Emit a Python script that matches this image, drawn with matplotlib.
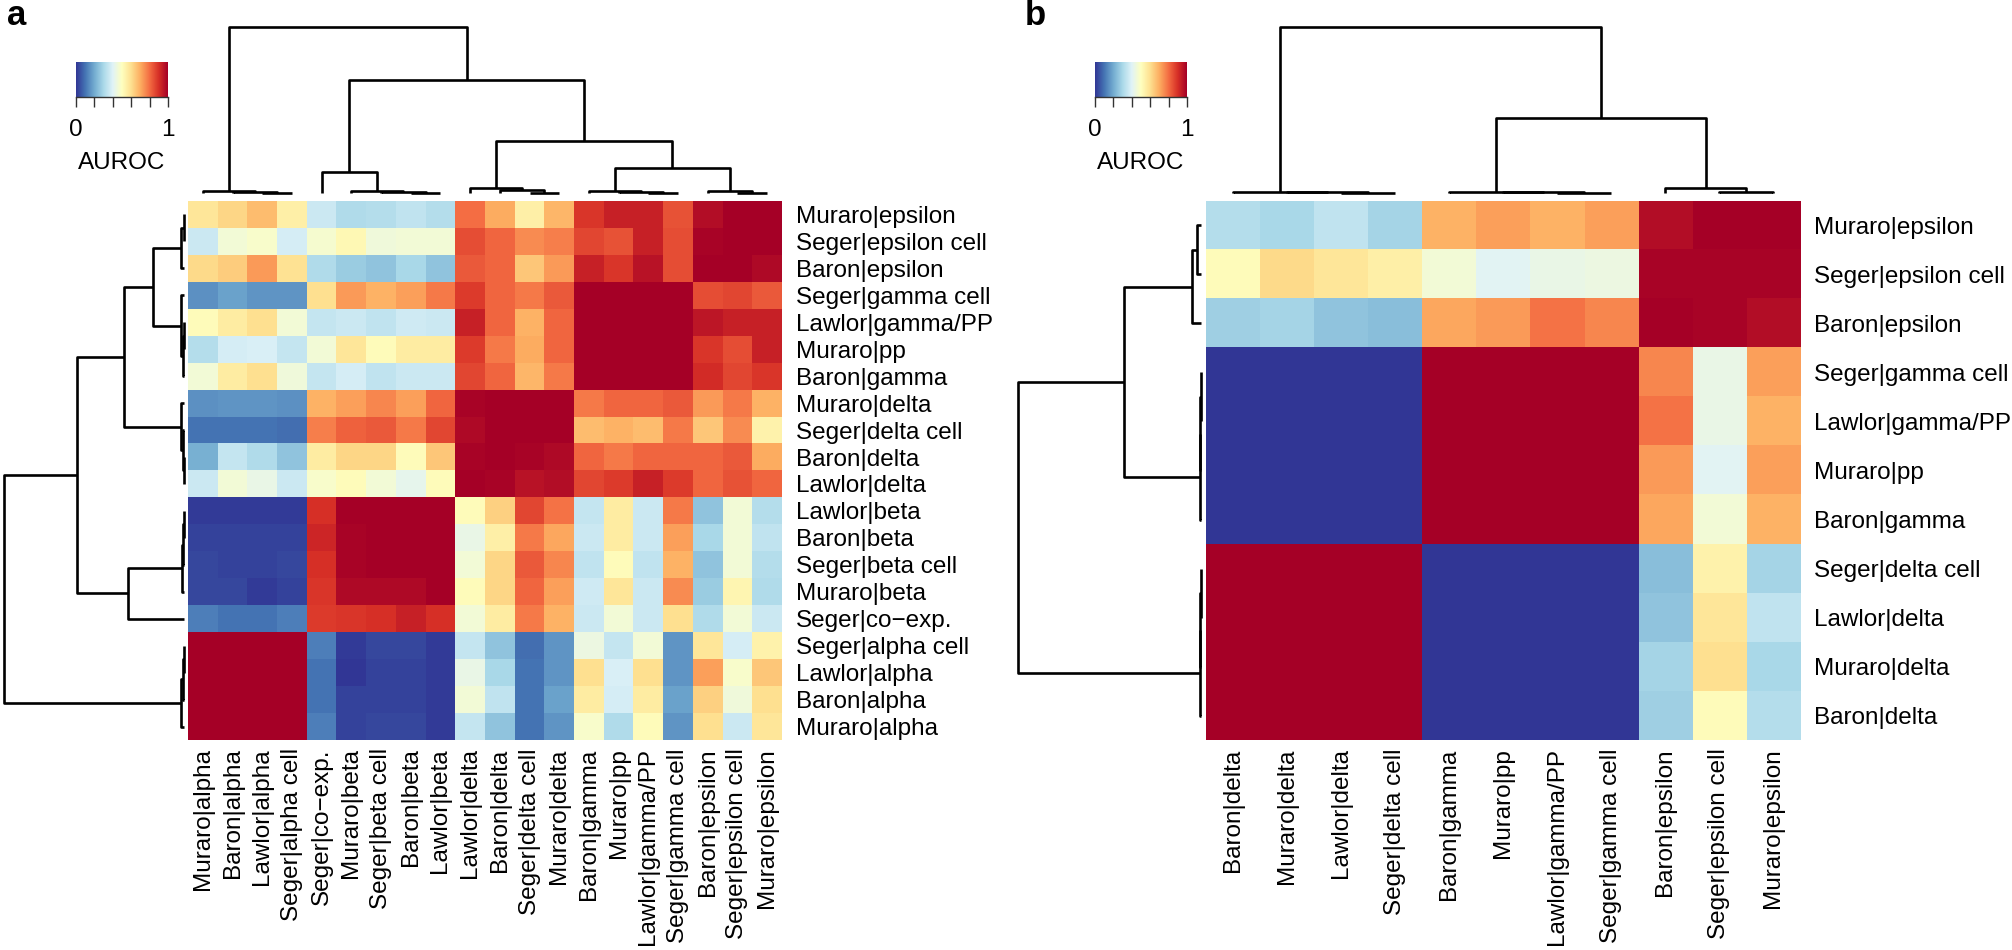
import numpy as np
import matplotlib
matplotlib.use("Agg")
import matplotlib.pyplot as plt

plt.rcParams['font.family'] = ['Liberation Sans', 'DejaVu Sans']

# ---------------- data: panel a ----------------
rows_a = ["Muraro|epsilon", "Seger|epsilon cell", "Baron|epsilon", "Seger|gamma cell",
          "Lawlor|gamma/PP", "Muraro|pp", "Baron|gamma", "Muraro|delta", "Seger|delta cell",
          "Baron|delta", "Lawlor|delta", "Lawlor|beta", "Baron|beta", "Seger|beta cell",
          "Muraro|beta", "Seger|co-exp.", "Seger|alpha cell", "Lawlor|alpha", "Baron|alpha",
          "Muraro|alpha"]
cols_a = ["Muraro|alpha", "Baron|alpha", "Lawlor|alpha", "Seger|alpha cell", "Seger|co\u2212exp.",
          "Muraro|beta", "Seger|beta cell", "Baron|beta", "Lawlor|beta", "Lawlor|delta",
          "Baron|delta", "Seger|delta cell", "Muraro|delta", "Baron|gamma", "Muraro|pp",
          "Lawlor|gamma/PP", "Seger|gamma cell", "Baron|epsilon", "Seger|epsilon cell",
          "Muraro|epsilon"]
rows_a_disp = [r.replace("co-exp.", "co\u2212exp.") for r in rows_a]

auroc_a = [
    [0.58, 0.62, 0.67, 0.55, 0.36, 0.31, 0.32, 0.34, 0.32, 0.80, 0.70, 0.55, 0.68, 0.89, 0.93, 0.93, 0.84, 0.97, 1.00, 1.00],
    [0.36, 0.46, 0.48, 0.38, 0.47, 0.52, 0.45, 0.46, 0.46, 0.85, 0.81, 0.75, 0.77, 0.86, 0.84, 0.93, 0.85, 0.99, 1.00, 1.00],
    [0.61, 0.64, 0.73, 0.59, 0.31, 0.27, 0.25, 0.30, 0.25, 0.83, 0.81, 0.65, 0.73, 0.93, 0.89, 0.96, 0.85, 1.00, 1.00, 0.98],
    [0.15, 0.18, 0.16, 0.16, 0.60, 0.73, 0.69, 0.72, 0.78, 0.88, 0.81, 0.78, 0.83, 1.00, 1.00, 1.00, 1.00, 0.85, 0.86, 0.83],
    [0.51, 0.56, 0.60, 0.46, 0.35, 0.36, 0.34, 0.37, 0.36, 0.93, 0.81, 0.69, 0.81, 1.00, 1.00, 1.00, 1.00, 0.95, 0.93, 0.93],
    [0.32, 0.38, 0.39, 0.35, 0.46, 0.58, 0.51, 0.56, 0.56, 0.88, 0.78, 0.70, 0.81, 1.00, 1.00, 1.00, 1.00, 0.89, 0.85, 0.93],
    [0.46, 0.56, 0.60, 0.45, 0.35, 0.38, 0.34, 0.36, 0.36, 0.86, 0.81, 0.68, 0.78, 1.00, 1.00, 1.00, 1.00, 0.91, 0.86, 0.89],
    [0.15, 0.16, 0.16, 0.15, 0.69, 0.72, 0.76, 0.72, 0.81, 0.99, 1.00, 1.00, 1.00, 0.78, 0.81, 0.81, 0.83, 0.73, 0.78, 0.69],
    [0.10, 0.10, 0.10, 0.09, 0.77, 0.82, 0.83, 0.78, 0.86, 0.98, 1.00, 1.00, 1.00, 0.67, 0.69, 0.67, 0.78, 0.65, 0.75, 0.54],
    [0.21, 0.35, 0.31, 0.25, 0.56, 0.62, 0.62, 0.51, 0.65, 0.99, 1.00, 0.99, 0.98, 0.81, 0.78, 0.81, 0.81, 0.81, 0.83, 0.70],
    [0.36, 0.46, 0.43, 0.36, 0.48, 0.51, 0.46, 0.42, 0.51, 1.00, 0.99, 0.96, 0.97, 0.86, 0.88, 0.93, 0.88, 0.81, 0.84, 0.81],
    [0.01, 0.01, 0.01, 0.01, 0.90, 1.00, 1.00, 1.00, 1.00, 0.51, 0.63, 0.86, 0.79, 0.35, 0.56, 0.36, 0.78, 0.25, 0.46, 0.32],
    [0.02, 0.02, 0.02, 0.02, 0.92, 0.99, 1.00, 1.00, 1.00, 0.43, 0.55, 0.78, 0.71, 0.36, 0.56, 0.36, 0.72, 0.30, 0.46, 0.34],
    [0.03, 0.02, 0.02, 0.03, 0.90, 0.99, 1.00, 1.00, 1.00, 0.46, 0.62, 0.83, 0.76, 0.34, 0.51, 0.34, 0.69, 0.25, 0.46, 0.32],
    [0.03, 0.03, 0.01, 0.02, 0.89, 0.98, 0.98, 0.98, 1.00, 0.51, 0.62, 0.81, 0.72, 0.37, 0.58, 0.36, 0.75, 0.27, 0.53, 0.31],
    [0.12, 0.10, 0.10, 0.12, 0.88, 0.89, 0.90, 0.93, 0.90, 0.46, 0.56, 0.78, 0.69, 0.36, 0.46, 0.36, 0.60, 0.31, 0.46, 0.36],
    [1.00, 1.00, 1.00, 1.00, 0.12, 0.01, 0.03, 0.03, 0.01, 0.35, 0.25, 0.09, 0.16, 0.44, 0.35, 0.46, 0.16, 0.58, 0.38, 0.54],
    [1.00, 1.00, 1.00, 1.00, 0.10, 0.00, 0.02, 0.02, 0.01, 0.43, 0.30, 0.10, 0.16, 0.60, 0.39, 0.60, 0.16, 0.72, 0.48, 0.65],
    [1.00, 1.00, 1.00, 1.00, 0.10, 0.02, 0.02, 0.02, 0.01, 0.46, 0.34, 0.10, 0.18, 0.56, 0.38, 0.56, 0.18, 0.63, 0.45, 0.60],
    [1.00, 1.00, 1.00, 1.00, 0.12, 0.02, 0.03, 0.03, 0.01, 0.35, 0.25, 0.10, 0.16, 0.48, 0.31, 0.51, 0.16, 0.60, 0.36, 0.58],
]

# dendrograms: [left, right, merge height]; leaves are display indices
coltree_a = [[0, [1, [2, 3, 0.5], 1.0], 2.0],
             [[4, [5, [6, [7, 8, 0.5], 1.0], 2.0], 21.0],
              [[9, [10, [11, 12, 0.5], 3.0], 5.0],
               [[13, [14, [15, 16, 0.5], 1.0], 2.0], [17, [18, 19, 0.5], 2.0], 25.0], 52.0],
              113.0],
             166.0]
rowtree_a = [[[[[[0, 1, 0.5], 2, 3.0], [3, [[4, 5, 0.5], 6, 1.0], 3.0], 31.0],
               [7, [8, [9, 10, 0.5], 1.0], 3.0], 60.0],
              [[[[11, 12, 0.5], 13, 1.0], 14, 2.0], 15, 56.0], 107.0],
             [19, [18, [17, 16, 0.5], 1.0], 3.0], 180.0]

# ---------------- data: panel b ----------------
rows_b = ["Muraro|epsilon", "Seger|epsilon cell", "Baron|epsilon", "Seger|gamma cell",
          "Lawlor|gamma/PP", "Muraro|pp", "Baron|gamma", "Seger|delta cell", "Lawlor|delta",
          "Muraro|delta", "Baron|delta"]
cols_b = ["Baron|delta", "Muraro|delta", "Lawlor|delta", "Seger|delta cell", "Baron|gamma",
          "Muraro|pp", "Lawlor|gamma/PP", "Seger|gamma cell", "Baron|epsilon",
          "Seger|epsilon cell", "Muraro|epsilon"]
auroc_b = [
    [0.32, 0.30, 0.34, 0.29, 0.69, 0.72, 0.69, 0.72, 0.97, 1.00, 1.00],
    [0.51, 0.61, 0.58, 0.55, 0.46, 0.41, 0.43, 0.44, 0.99, 0.99, 0.99],
    [0.28, 0.29, 0.25, 0.24, 0.71, 0.73, 0.79, 0.76, 1.00, 0.99, 0.97],
    [0.00, 0.00, 0.00, 0.00, 1.00, 1.00, 1.00, 1.00, 0.76, 0.43, 0.72],
    [0.00, 0.00, 0.00, 0.00, 1.00, 1.00, 1.00, 1.00, 0.79, 0.43, 0.69],
    [0.00, 0.00, 0.00, 0.00, 1.00, 1.00, 1.00, 1.00, 0.73, 0.41, 0.72],
    [0.00, 0.00, 0.00, 0.00, 1.00, 1.00, 1.00, 1.00, 0.71, 0.46, 0.69],
    [1.00, 1.00, 1.00, 1.00, 0.00, 0.00, 0.00, 0.00, 0.24, 0.54, 0.29],
    [1.00, 1.00, 1.00, 1.00, 0.00, 0.00, 0.00, 0.00, 0.25, 0.58, 0.34],
    [1.00, 1.00, 1.00, 1.00, 0.00, 0.00, 0.00, 0.00, 0.29, 0.60, 0.30],
    [1.00, 1.00, 1.00, 1.00, 0.00, 0.00, 0.00, 0.00, 0.28, 0.51, 0.32],
]
coltree_b = [[0, [1, [2, 3, 0.4], 0.8], 1.2],
             [[4, [5, [6, 7, 0.4], 0.8], 1.2], [8, [9, 10, 0.7], 5.0], 75.0],
             166.0]
rowtree_b = [[[[0, 1, 4.0], 2, 9.0], [[[3, 4, 0.4], 5, 0.8], 6, 1.2], 77.0],
             [[[7, 8, 0.4], 9, 0.8], 10, 1.2], 183.0]

# ---------------- layout helpers ----------------
W, H = 2012, 950
fig = plt.figure(figsize=(W / 100, H / 100), dpi=100)
FS = 17.5
LW = 1.9


def ax_px(x0, y0, x1, y1):
    return fig.add_axes([x0 / W, 1 - y1 / H, (x1 - x0) / W, (y1 - y0) / H])


def draw_tree(ax, node, orient):
    if isinstance(node, int):
        return float(node), 0.0
    l, r, h = node
    pl, hl = draw_tree(ax, l, orient)
    pr, hr = draw_tree(ax, r, orient)
    p = [pl, pl, pr, pr]
    q = [hl, h, h, hr]
    if orient == 'top':
        ax.plot(p, q, color='black', lw=LW, solid_capstyle='butt', clip_on=False)
    else:
        ax.plot(q, p, color='black', lw=LW, solid_capstyle='butt', clip_on=False)
    return (pl + pr) / 2.0, h


def heat(x0, x1, data, rlab, clab):
    ax = ax_px(x0, 201, x1, 740)
    m = np.array(data)
    ax.imshow(m, cmap='RdYlBu_r', vmin=0, vmax=1, aspect='auto', interpolation='nearest')
    ax.yaxis.tick_right()
    ax.set_yticks(range(len(rlab)))
    ax.set_yticklabels(rlab, fontsize=FS)
    ax.set_xticks(range(len(clab)))
    ax.set_xticklabels(clab, fontsize=FS, rotation=90)
    ax.tick_params(axis='y', length=0, pad=10)
    ax.tick_params(axis='x', length=0, pad=6)
    for s in ax.spines.values():
        s.set_visible(False)
    return ax


def col_dendro(x0, x1, tree, n):
    ax = ax_px(x0, 27, x1, 193)
    draw_tree(ax, tree, 'top')
    ax.set_xlim(-0.5, n - 0.5)
    ax.set_ylim(0, tree[2])
    ax.axis('off')


def row_dendro(x0, x1, tree, n):
    ax = ax_px(x0, 201, x1, 740)
    draw_tree(ax, tree, 'left')
    ax.set_ylim(n - 0.5, -0.5)
    ax.set_xlim(tree[2], 0)
    ax.axis('off')


def key(x0, x1):
    ax = ax_px(x0, 62, x1, 97)
    ax.imshow(np.linspace(0, 1, 256).reshape(1, -1), cmap='RdYlBu_r', vmin=0, vmax=1,
              aspect='auto', extent=(0, 1, 0, 1))
    ax.set_xlim(0, 1)
    ax.set_ylim(0, 1)
    ax.set_yticks([])
    ax.set_xticks([0, 0.2, 0.4, 0.6, 0.8, 1.0])
    ax.set_xticklabels(['0', '', '', '', '', '1'], fontsize=FS)
    ax.tick_params(axis='x', length=7.5, width=1, color='#333333', pad=8)
    for k in ['top', 'left', 'right']:
        ax.spines[k].set_visible(False)
    ax.spines['bottom'].set_color('#333333')
    ax.spines['bottom'].set_linewidth(1)
    fig.text((x0 + x1) / 2 / W, 1 - 163 / H, 'AUROC', fontsize=FS, ha='center', va='center')


PANEL_FONT = ['Liberation Sans Narrow', 'Liberation Sans', 'DejaVu Sans']

# ---------------- panel a ----------------
heat(188, 782, auroc_a, rows_a_disp, cols_a)
col_dendro(188, 782, coltree_a, len(cols_a))
row_dendro(4, 184, rowtree_a, len(rows_a))
key(76, 168)
fig.text(7 / W, 1 - 25 / H, 'a', fontsize=25, fontweight='bold', ha='left', va='baseline',
         family=PANEL_FONT)

# ---------------- panel b ----------------
heat(1206, 1800, auroc_b, rows_b, cols_b)
col_dendro(1206, 1800, coltree_b, len(cols_b))
row_dendro(1018, 1201, rowtree_b, len(rows_b))
key(1095, 1187)
fig.text(1025 / W, 1 - 25 / H, 'b', fontsize=25, fontweight='bold', ha='left', va='baseline',
         family=PANEL_FONT)

fig.savefig('out.png', dpi=100)
